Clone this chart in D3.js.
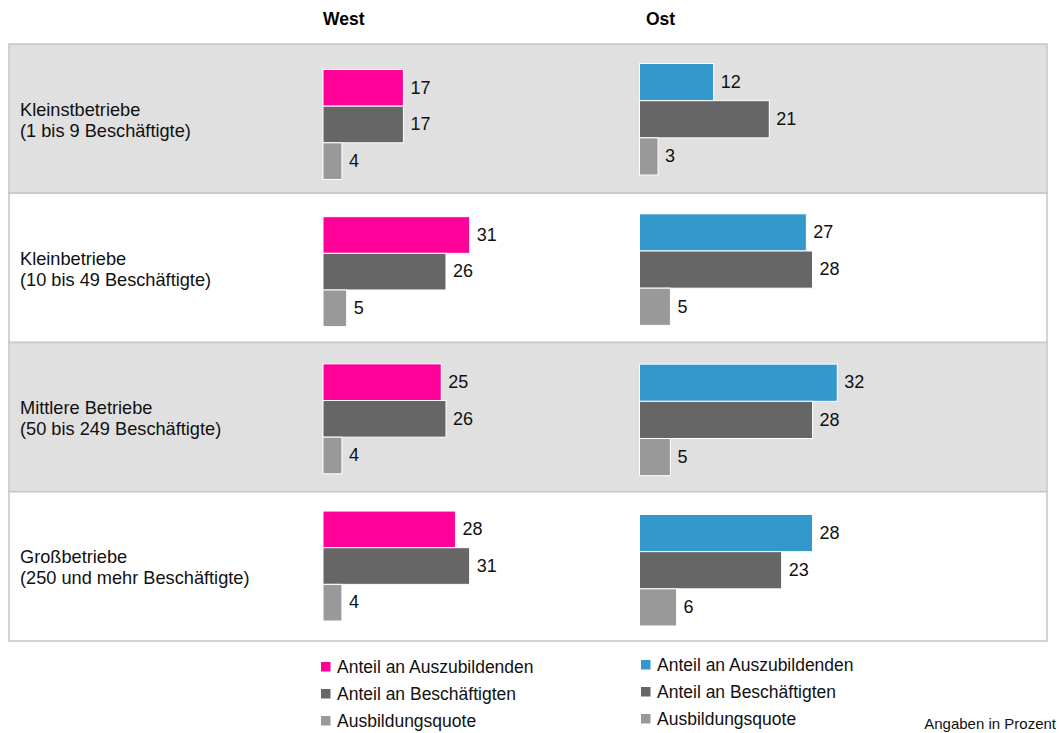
<!DOCTYPE html>
<html>
<head>
<meta charset="utf-8">
<script src="https://cdn.jsdelivr.net/npm/d3@7"></script>
<style>
  html, body { margin: 0; padding: 0; background: #fff; }
  svg { display: block; font-family: "Liberation Sans", Arial, sans-serif; }
</style>
</head>
<body>
<svg id="chart" width="1059" height="733"></svg>
<script>
// Company size classes (two-line labels)
const categories = ["klein0", "klein", "mittel", "gross"];
const categoryLine1 = ["Kleinstbetriebe", "Kleinbetriebe", "Mittlere Betriebe", "Großbetriebe"];
const categoryLine2 = ["(1 bis 9 Beschäftigte)", "(10 bis 49 Beschäftigte)", "(50 bis 249 Beschäftigte)", "(250 und mehr Beschäftigte)"];

const seriesNames = ["Anteil an Auszubildenden", "Anteil an Beschäftigten", "Ausbildungsquote"];

// West
const westAuszubildende = [17, 31, 25, 28];
const westBeschaeftigte = [17, 26, 26, 31];
const westQuote = [4, 5, 4, 4];

// Ost
const ostAuszubildende = [12, 27, 32, 28];
const ostBeschaeftigte = [21, 28, 28, 23];
const ostQuote = [3, 5, 5, 6];

const regionTitles = ["West", "Ost"];
const noteText = "Angaben in Prozent";

const colWest = ["#ff0099", "#666666", "#999999"];
const colOst = ["#3399cc", "#666666", "#999999"];

const svg = d3.select("#chart");
const fontSize = 17.5;

// Row panels
const rowY = d3.scaleBand().domain(categories).range([44, 641]).padding(0);
const panelLeft = 9, panelRight = 1047;

svg.append("g").selectAll("rect")
  .data(categories)
  .join("rect")
  .attr("x", panelLeft)
  .attr("y", d => rowY(d))
  .attr("width", panelRight - panelLeft)
  .attr("height", rowY.bandwidth())
  .attr("fill", (d, i) => i % 2 === 0 ? "#e0e0e0" : "#ffffff")
  .attr("stroke", "#c8c8c8")
  .attr("stroke-width", 1.6);

// Category labels
const catG = svg.append("g");
categories.forEach((c, i) => {
  const cy = rowY(c) + rowY.bandwidth() / 2;
  const t = catG.append("text")
    .attr("x", 20)
    .attr("y", cy - 8)
    .attr("font-size", 18.2)
    .attr("fill", "#111")
    .attr("dominant-baseline", "middle");
  t.append("tspan").attr("x", 20).text(categoryLine1[i]);
  t.append("tspan").attr("x", 20).attr("dy", 21).text(categoryLine2[i]);
});

// One bar block per region
function drawRegion(values, colors, x0, pxPerUnit, yRange, padInner, legendX, legendY0, title, titleX) {
  const x = d3.scaleLinear().domain([0, 35]).range([x0, x0 + 35 * pxPerUnit]);
  const y = d3.scaleBand().domain(categories).range(yRange).paddingInner(padInner).paddingOuter(0);
  const ySub = d3.scaleBand().domain(d3.range(seriesNames.length)).range([0, y.bandwidth()]).padding(0);

  const g = svg.append("g");

  g.append("text")
    .attr("x", titleX)
    .attr("y", 25)
    .attr("font-size", 17.5)
    .attr("font-weight", "bold")
    .attr("fill", "#000")
    .text(title);

  const rows = categories.map((c, i) => values.map((arr, s) => ({ c, s, v: arr[i] }))).flat();

  g.selectAll("rect.bar")
    .data(rows)
    .join("rect")
    .attr("class", "bar")
    .attr("x", x(0))
    .attr("y", d => y(d.c) + ySub(d.s))
    .attr("width", d => x(d.v) - x(0))
    .attr("height", ySub.bandwidth())
    .attr("fill", d => colors[d.s])
    .attr("stroke", "#ffffff")
    .attr("stroke-width", 1);

  g.selectAll("text.val")
    .data(rows)
    .join("text")
    .attr("class", "val")
    .attr("x", d => x(d.v) + 7)
    .attr("y", d => y(d.c) + ySub(d.s) + ySub.bandwidth() / 2 + 1)
    .attr("dominant-baseline", "middle")
    .attr("font-size", 18)
    .attr("fill", "#111")
    .text(d => d.v);

  // Legend
  const lg = g.append("g");
  seriesNames.forEach((name, s) => {
    const ly = legendY0 + s * 27;
    lg.append("rect")
      .attr("x", legendX)
      .attr("y", ly - 5)
      .attr("width", 9.5)
      .attr("height", 9.5)
      .attr("fill", colors[s]);
    lg.append("text")
      .attr("x", legendX + 16)
      .attr("y", ly + 1)
      .attr("dominant-baseline", "middle")
      .attr("font-size", fontSize)
      .attr("fill", "#111")
      .text(name);
  });
}

drawRegion([westAuszubildende, westBeschaeftigte, westQuote], colWest,
  323, 4.73, [69.5, 621], 0.253, 321, 667, regionTitles[0], 323);
drawRegion([ostAuszubildende, ostBeschaeftigte, ostQuote], colOst,
  639.5, 6.18, [63.5, 626], 0.258, 641, 665, regionTitles[1], 646);

svg.append("text")
  .attr("x", 1056)
  .attr("y", 729)
  .attr("text-anchor", "end")
  .attr("font-size", 15)
  .attr("fill", "#111")
  .text(noteText);
</script>
</body>
</html>
